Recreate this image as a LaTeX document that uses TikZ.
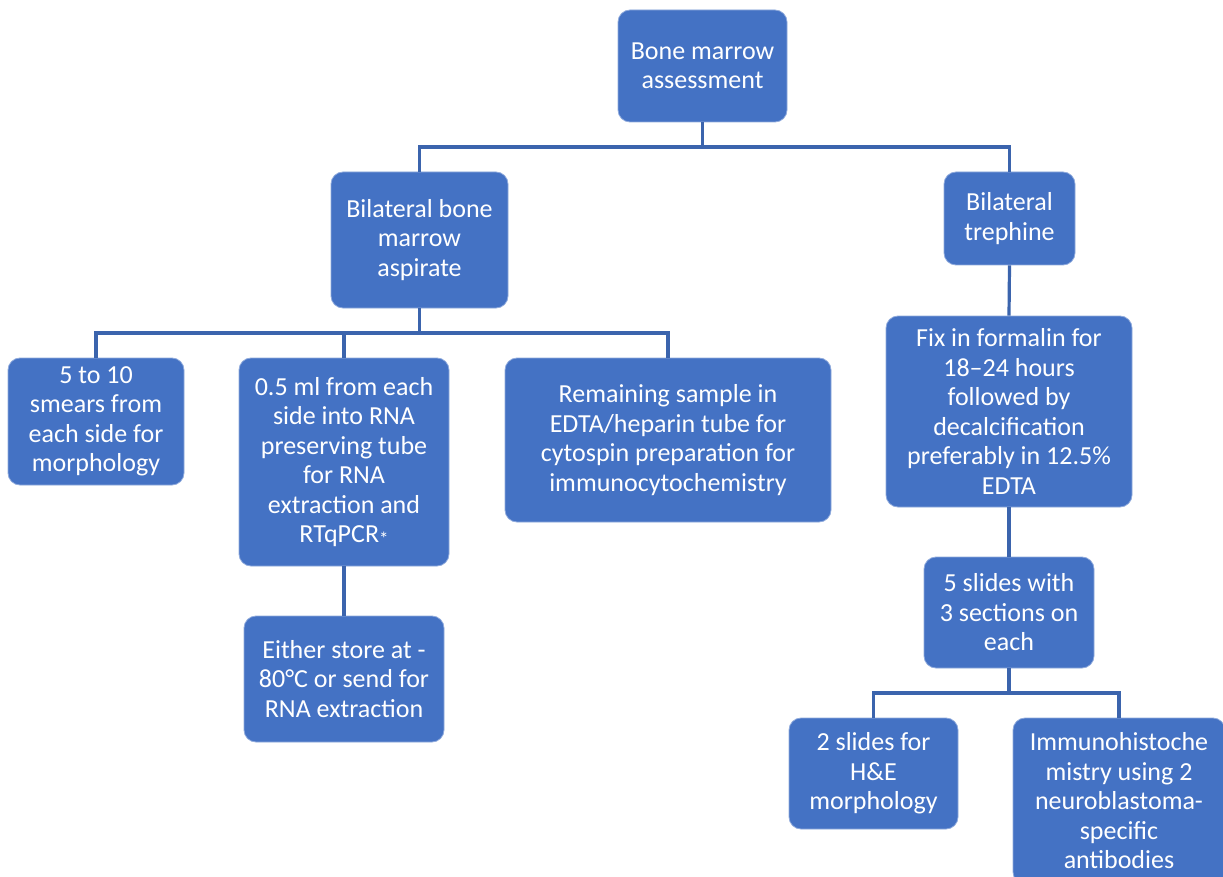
\documentclass[tikz,border=0pt]{standalone}
\usepackage{fontspec}
\setmainfont{Carlito}
\definecolor{boxblue}{HTML}{4472C4}
\definecolor{lineblue}{HTML}{3B64AD}
\definecolor{boxedge}{HTML}{8FAADC}
\begin{document}
\begin{tikzpicture}[x=1pt,y=-1pt,
  box/.style={rectangle, rounded corners=12pt, fill=boxblue, draw=boxedge, line width=0.8pt,
    text=white, align=center, inner sep=0pt,
    font=\fontsize{26}{29.5}\selectfont},
  conn/.style={draw=lineblue, line width=3.2pt}]
\clip (0,0) rectangle (1223,877);
\fill[white] (0,0) rectangle (1223,877);
\useasboundingbox (0,0) rectangle (1223,877);

\node[box, minimum width=169pt, minimum height=112pt] (root) at (702.5,66) {Bone marrow\\assessment};
\node[box, minimum width=177pt, minimum height=136pt] (asp) at (419.5,240) {Bilateral bone\\marrow\\aspirate};
\node[box, minimum width=131pt, minimum height=93pt] (tre) at (1009.5,218.5) {Bilateral\\trephine};
\node[box, minimum width=176pt, minimum height=127pt] (sme) at (96,421.5) {5 to 10\\smears from\\each side for\\morphology};
\node[box, minimum width=210pt, minimum height=208pt] (rna) at (344,462) {0.5 ml from each\\side into RNA\\preserving tube\\for RNA\\extraction and\\RTqPCR{\fontsize{19}{19}\selectfont\raisebox{-2.5pt}{*}}};
\node[box, minimum width=326pt, minimum height=164pt] (rem) at (668,440) {Remaining sample in\\EDTA/heparin tube for\\cytospin preparation for\\immunocytochemistry};
\node[box, minimum width=246pt, minimum height=191pt] (fix) at (1009,411.5) {Fix in formalin for\\18–24 hours\\followed by\\decalcification\\preferably in 12.5\%\\EDTA};
\node[box, minimum width=200pt, minimum height=126pt] (sto) at (344,679) {Either store at -\\80°C or send for\\RNA extraction};
\node[box, minimum width=170pt, minimum height=111pt] (sli) at (1009,612.5) {5 slides with\\3 sections on\\each};
\node[box, minimum width=169pt, minimum height=111pt] (hne) at (873.5,773.5) {2 slides for\\H\&E\\morphology};
\node[box, minimum width=212pt, minimum height=166pt] (imm) at (1119,801) {Immunohistoche\\mistry using 2\\neuroblastoma-\\specific\\antibodies};

\coordinate (j1) at (702.5,147);
\coordinate (j2) at (419.5,333);
\coordinate (j3) at (1009,693);

\draw[conn] (root.south) -- (j1);
\draw[conn] (j1) -| (asp.north);
\draw[conn] (j1) -| (tre.north);
\draw[conn] (asp.south) -- (j2);
\draw[conn] (j2) -| (sme.north);
\draw[conn] (j2) -| (rna.north);
\draw[conn] (j2) -| (rem.north);
\draw[conn] (rna.south) -- (sto.north);
\draw[conn] (tre.south) -- (fix.north);
\draw[conn] (fix.south) -- (sli.north);
\draw[conn] (sli.south) -- (j3);
\draw[conn] (j3) -| (hne.north);
\draw[conn] (j3) -| (imm.north);
\end{tikzpicture}
\end{document}
